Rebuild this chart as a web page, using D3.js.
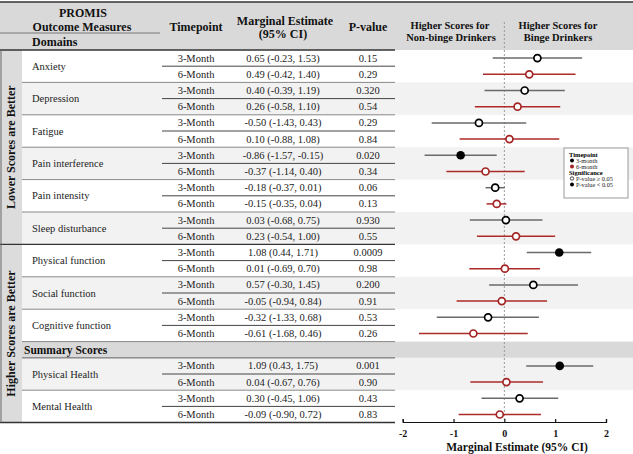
<!DOCTYPE html>
<html><head><meta charset="utf-8">
<script src="https://cdn.jsdelivr.net/npm/d3@7"></script>
<style>body{margin:0;background:#fff}svg{display:block;font-family:"Liberation Serif","Times New Roman",serif}</style>
</head><body><svg id="c" width="633" height="454"></svg>
<script>
// ---------- data ----------
const measures = ["Anxiety","Depression","Fatigue","Pain interference","Pain intensity","Sleep disturbance","Physical function","Social function","Cognitive function","Physical Health","Mental Health"];
const groups = ["Lower Scores are Better","Higher Scores are Better"];
const groupOf = [0,0,0,0,0,0,1,1,1,1,1];
const sections = ["Domains","Summary Scores"];
const sectionOf = [0,0,0,0,0,0,0,0,0,1,1];
const timepoints = ["3-Month","6-Month"];
const est3 = [0.65,0.40,-0.50,-0.86,-0.18,0.03,1.08,0.57,-0.32,1.09,0.30];
const lo3  = [-0.23,-0.39,-1.43,-1.57,-0.37,-0.68,0.44,-0.30,-1.33,0.43,-0.45];
const hi3  = [1.53,1.19,0.43,-0.15,0.01,0.75,1.71,1.45,0.68,1.75,1.06];
const p3   = ["0.15","0.320","0.29","0.020","0.06","0.930","0.0009","0.200","0.53","0.001","0.43"];
const est6 = [0.49,0.26,0.10,-0.37,-0.15,0.23,0.01,-0.05,-0.61,0.04,-0.09];
const lo6  = [-0.42,-0.58,-0.88,-1.14,-0.35,-0.54,-0.69,-0.94,-1.68,-0.67,-0.90];
const hi6  = [1.40,1.10,1.08,0.40,0.04,1.00,0.70,0.84,0.46,0.76,0.72];
const p6   = ["0.29","0.54","0.84","0.34","0.13","0.55","0.98","0.91","0.26","0.90","0.83"];
const xTicks = [-2,-1,0,1,2];
const legendTime = ["3-month","6-month"];
const legendSig = ["P-value \u2265 0.05","P-value < 0.05"];

// ---------- build rows ----------
const rows = [];
measures.forEach((m,k)=>{
  if (k>0 && sectionOf[k]!==sectionOf[k-1]) rows.push({type:"section", key:"S"+sectionOf[k], label:sections[sectionOf[k]]});
  [[est3,lo3,hi3,p3],[est6,lo6,hi6,p6]].forEach((s,t)=>{
    rows.push({type:"data", key:m+"|"+t, k, t, m, est:s[0][k], lo:s[1][k], hi:s[2][k], p:s[3][k]});
  });
});

const W=633, H=454;
const svg = d3.select("#c");
const y = d3.scaleBand().domain(rows.map(r=>r.key)).range([50,422.6]);
const bw = y.bandwidth();
const x = d3.scaleLinear().domain([-2,2]).range([402.7,606]);
const loc = d3.formatLocale({decimal:".",thousands:",",grouping:[3],currency:["$",""],minus:"-"});
const f2 = loc.format(".2f");
const fd = loc.format("d");
const col3 = "#000", col6 = "#a32424";
const line3 = "#6a6a6a", line6 = "#ad2a2a";
const TABLE_R = 395;

// ---------- backgrounds ----------
svg.append("rect").attr("x",0).attr("y",2).attr("width",W).attr("height",48).attr("fill","#d9d9d9");
const dataRows = rows.filter(r=>r.type==="data");
svg.selectAll("rect.stripe").data(dataRows.filter(r=>r.t===0 && r.k%2===1)).join("rect")
  .attr("x",22).attr("y",r=>y(r.key)).attr("width",W-22).attr("height",bw*2).attr("fill","#f2f2f2");
const secRows = rows.filter(r=>r.type==="section");
svg.selectAll("rect.sec").data(secRows).join("rect")
  .attr("x",22).attr("y",r=>y(r.key)).attr("width",W-22).attr("height",bw).attr("fill","#d9d9d9");
// left group column
groups.forEach((g,gi)=>{
  const ks = measures.map((m,k)=>k).filter(k=>groupOf[k]===gi);
  const y0 = y(measures[ks[0]]+"|0");
  const y1 = y(measures[ks[ks.length-1]]+"|1")+bw;
  svg.append("rect").attr("x",0).attr("y",y0).attr("width",22).attr("height",y1-y0).attr("fill","#dcdcdc");
  svg.append("text").attr("transform",`translate(15,${(y0+y1)/2}) rotate(-90)`)
    .attr("text-anchor","middle").attr("font-weight","bold").attr("font-size",12).attr("fill","#111").text(g);
});

// ---------- table lines ----------
const hl = (x1,x2,yy,c,w)=>svg.append("line").attr("x1",x1).attr("x2",x2).attr("y1",yy).attr("y2",yy).attr("stroke",c).attr("stroke-width",w);
hl(0,W,2,"#333",1.5);
hl(0,160,33,"#777",1);
hl(0,TABLE_R,50,"#333",1.5);
measures.forEach((m,k)=>{
  const yt = y(m+"|0"), ym = y(m+"|1");
  hl(162,TABLE_R,ym,"#444",1);
  if (k>0){
    if (groupOf[k]!==groupOf[k-1]) hl(0,TABLE_R,yt,"#333",1.3);
    else hl(22,TABLE_R,yt,"#888",1);
  }
});
secRows.forEach(r=>{ hl(22,TABLE_R,y(r.key),"#888",1); hl(22,TABLE_R,y(r.key)+bw,"#888",1); });
hl(0,TABLE_R,422.6,"#333",1.5);
svg.append("line").attr("x1",1).attr("x2",1).attr("y1",50).attr("y2",422.6).attr("stroke","#666").attr("stroke-width",1);

// ---------- header text ----------
const ht = (tx,ty,s,anchor,size,bold)=>svg.append("text").attr("x",tx).attr("y",ty).attr("text-anchor",anchor||"middle")
  .attr("dominant-baseline","central").attr("font-size",size||12).attr("font-weight",bold===false?"normal":"bold").attr("fill","#111").text(s);
ht(83,13,"PROMIS");
ht(82,27,"Outcome Measures");
ht(32,42,sections[0],"start");
ht(196,27,"Timepoint");
ht(285,21,"Marginal Estimate");
ht(283,34,"(95% CI)");
ht(368,27,"P-value");
ht(450,25,"Higher Scores for","middle",10.5);
ht(451,37,"Non-binge Drinkers","middle",10.5);
ht(558,25,"Higher Scores for","middle",10.5);
ht(558,37,"Binge Drinkers","middle",10.5);
secRows.forEach(r=>ht(24,y(r.key)+bw/2,r.label,"start",11.5));

// ---------- body text ----------
const body = svg.append("g").attr("font-size",10.5).attr("fill","#222");
measures.forEach((m,k)=>{
  body.append("text").attr("x",32).attr("y",y(m+"|1")).attr("dominant-baseline","central").text(m);
});
dataRows.forEach(r=>{
  const cy = y(r.key)+bw/2;
  body.append("text").attr("x",196).attr("y",cy).attr("text-anchor","middle").attr("dominant-baseline","central").text(timepoints[r.t]);
  body.append("text").attr("x",283).attr("y",cy).attr("text-anchor","middle").attr("dominant-baseline","central")
    .text(`${f2(r.est)} (${f2(r.lo)}, ${f2(r.hi)})`);
  body.append("text").attr("x",368).attr("y",cy).attr("text-anchor","middle").attr("dominant-baseline","central").text(r.p);
});

// ---------- forest plot ----------
svg.append("line").attr("x1",x(0)).attr("x2",x(0)).attr("y1",22).attr("y2",422)
  .attr("stroke","#9a9a9a").attr("stroke-width",1).attr("stroke-dasharray","2,2");
const g = svg.append("g");
g.selectAll("line.ci").data(dataRows).join("line")
  .attr("x1",r=>x(r.lo)).attr("x2",r=>x(r.hi))
  .attr("y1",r=>y(r.key)+bw/2).attr("y2",r=>y(r.key)+bw/2)
  .attr("stroke",r=>r.t===0?line3:line6).attr("stroke-width",1.5);
g.selectAll("circle.pt").data(dataRows).join("circle")
  .attr("cx",r=>x(r.est)).attr("cy",r=>y(r.key)+bw/2)
  .attr("r",r=>(+r.p<0.05)?4.3:3.5)
  .attr("fill",r=>(+r.p<0.05)?(r.t===0?col3:col6):"#fff")
  .attr("stroke",r=>r.t===0?col3:col6).attr("stroke-width",r=>(+r.p<0.05)?0:1.7);

// axis
const ax = svg.append("g").attr("transform","translate(0,422)")
  .call(d3.axisBottom(x).tickValues(xTicks).tickSizeInner(-3).tickSizeOuter(-3).tickPadding(8).tickFormat(fd));
ax.select(".domain").attr("stroke","#111").attr("stroke-width",1.2);
ax.selectAll(".tick line").attr("stroke","#111").attr("stroke-width",1.2);
ax.selectAll(".tick text").attr("font-family","Liberation Serif, serif").attr("font-size",10).attr("font-weight","bold").attr("fill","#111");
svg.append("text").attr("x",517).attr("y",447).attr("text-anchor","middle").attr("dominant-baseline","central")
  .attr("font-size",11.5).attr("font-weight","bold").attr("fill","#111").text("Marginal  Estimate (95% CI)");

// ---------- legend ----------
const lg = svg.append("g").attr("transform","translate(564,148)");
lg.append("rect").attr("width",64).attr("height",50).attr("fill","#fff").attr("stroke","#999").attr("stroke-width",1);
lg.append("text").attr("x",5).attr("y",6.5).attr("font-size",6.5).attr("font-weight","bold").attr("dominant-baseline","central").text("Timepoint");
legendTime.forEach((s,i)=>{
  lg.append("circle").attr("cx",8).attr("cy",12.5+i*6).attr("r",2).attr("fill",i===0?col3:col6);
  lg.append("text").attr("x",12).attr("y",12.5+i*6).attr("font-size",6.3).attr("dominant-baseline","central").attr("fill","#222").text(s);
});
lg.append("text").attr("x",5).attr("y",24.5).attr("font-size",6.5).attr("font-weight","bold").attr("dominant-baseline","central").text("Significance");
legendSig.forEach((s,i)=>{
  lg.append("circle").attr("cx",8).attr("cy",30.5+i*6).attr("r",i===0?1.7:2)
    .attr("fill",i===0?"#fff":"#000").attr("stroke","#000").attr("stroke-width",i===0?0.7:0);
  lg.append("text").attr("x",12).attr("y",30.5+i*6).attr("font-size",6.3).attr("dominant-baseline","central").attr("fill","#222").text(s);
});
</script></body></html>
